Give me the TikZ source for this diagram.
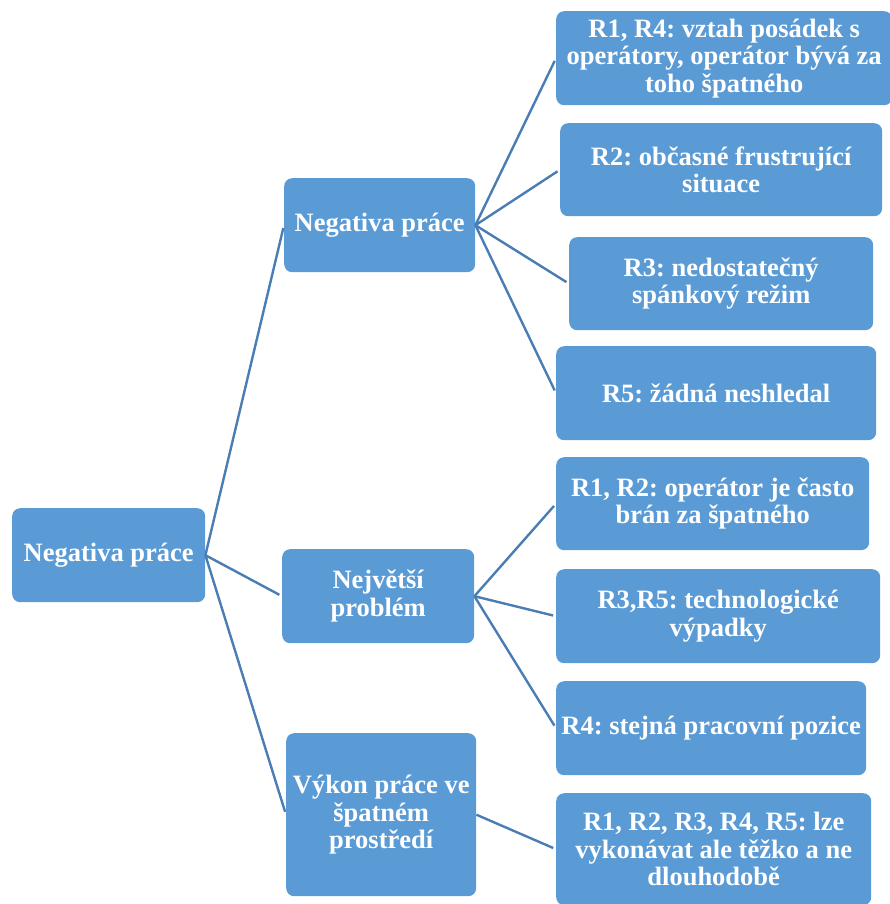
\documentclass[tikz,border=0pt]{standalone}
\usepackage{fontspec}
\setmainfont{Liberation Serif}
\frenchspacing
\definecolor{boxfill}{HTML}{5B9BD5}
\definecolor{linkcol}{HTML}{4A7DB3}
\begin{document}
\begin{tikzpicture}[x=1pt,y=-1pt,
  box/.style={draw=none,fill=boxfill,rounded corners=8pt,anchor=north west,
    inner sep=0pt,align=center,text=white,
    font=\fontsize{26.5}{27.5}\selectfont\bfseries},
  link/.style={draw=linkcol,line width=2.4pt,shorten >=3pt}]
\useasboundingbox (0,0) rectangle (889,904);

% root
\node[box,minimum width=193pt,minimum height=94pt] (root) at (12,508) {Negativa práce};

% middle level
\node[box,minimum width=191pt,minimum height=94pt] (neg) at (284,178) {Negativa práce};
\node[box,minimum width=192pt,minimum height=94pt] (prob) at (282,549) {Největší\\problém};
\node[box,minimum width=190pt,minimum height=163pt] (vykon) at (286,733) {Výkon práce ve\\špatném\\prostředí};

% leaves
\node[box,minimum width=336pt,minimum height=94pt] (l1) at (556,11) {R1, R4: vztah posádek s\\operátory, operátor bývá za\\toho špatného};
\node[box,minimum width=322pt,minimum height=93pt] (l2) at (560,123) {R2: občasné frustrující\\situace};
\node[box,minimum width=304pt,minimum height=93pt] (l3) at (569,237) {R3: nedostatečný\\spánkový režim};
\node[box,minimum width=320pt,minimum height=94pt] (l4) at (556,346) {R5: žádná neshledal};
\node[box,minimum width=313pt,minimum height=93pt] (l5) at (556,457) {R1, R2: operátor je často\\brán za špatného};
\node[box,minimum width=324pt,minimum height=94pt] (l6) at (556,569) {R3,R5: technologické\\výpadky};
\node[box,minimum width=310pt,minimum height=94pt] (l7) at (556,681) {R4: stejná pracovní pozice};
\node[box,minimum width=315pt,minimum height=112pt] (l8) at (556,793) {R1, R2, R3, R4, R5: lze\\vykonávat ale těžko a ne\\dlouhodobě};

% connectors
\foreach \c in {neg,prob,vykon} \draw[link] (root.east) -- (\c.west);
\foreach \c in {l1,l2,l3,l4} \draw[link] (neg.east) -- (\c.west);
\foreach \c in {l5,l6,l7} \draw[link] (prob.east) -- (\c.west);
\draw[link] (vykon.east) -- (l8.west);
\end{tikzpicture}
\end{document}
